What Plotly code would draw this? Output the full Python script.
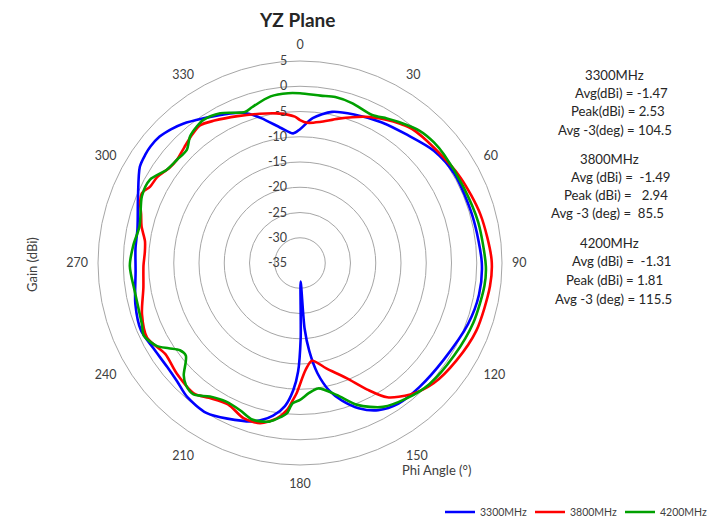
import plotly.graph_objects as go

# ---------------- data ----------------
series_names = ["3300MHz", "3800MHz", "4200MHz"]
series_colors = ["#0000FF", "#FF0000", "#00A000"]

phi_3300 = [0, 5, 12, 20, 30, 40, 50, 60, 75, 90, 100, 110, 124, 136, 145, 152, 158, 163, 167,
            171, 174, 176, 178, 179.5, 181, 183, 186, 190, 196, 205, 212, 220, 226, 232, 240,
            247, 256, 267, 275, 282, 292, 301, 305, 308, 312, 316, 320, 326, 335, 340, 345,
            352, 357, 360]
gain_3300 = [-8.5, -6.2, -4.4, -3.7, -2.8, -1.9, -0.4, 0.3, 0.4, 1.0, 1.0, 0.4, -0.7, -0.9, -1.0,
             -2.0, -4.0, -6.5, -9.0, -12.9, -17.5, -22.0, -31.3, -20.0, -13.5, -9.8, -6.5, -4.3,
             -2.4, -1.0, 0.0, -0.3, -1.2, -1.6, -1.4, -0.8, -1.4, -2.4, -2.3, -2.1, -0.4, 2.0,
             2.4, 2.53, 2.4, 1.8, 1.0, -0.5, -2.3, -3.4, -5.3, -8.0, -9.3, -8.5]

phi_3800 = [0, 3, 8, 15, 24, 31, 36, 40, 50, 62, 75, 89, 97, 111, 122, 132, 140, 147, 152, 158,
            166, 173, 177, 181.5, 183, 185, 188.5, 194, 200, 207, 214, 219, 228, 236, 244, 252,
            261, 269, 274, 278, 283, 287, 291, 294, 297, 301, 306, 310, 315, 320, 324, 329, 337,
            345, 351, 358, 360]
gain_3800 = [-6.7, -7.2, -6.8, -5.4, -3.3, -1.9, -1.0, -0.4, 0.05, 1.0, 2.0, 2.94, 2.9, 2.4, 1.5,
             0.6, -1.0, -3.3, -6.6, -10.4, -13.5, -15.5, -13.8, -9.2, -7.8, -5.8, -3.9, -2.3,
             -2.3, -3.6, -2.8, -1.7, -2.2, -2.8, -1.3, -2.1, -3.6, -4.0, -4.2, -4.0, -2.8, -2.1,
             -1.1, -0.8, -1.7, -2.0, -3.0, -3.2, -2.6, -1.8, -1.3, -2.1, -3.4, -4.4, -5.0, -6.0,
             -6.7]

phi_4200 = [0, 7, 12, 18, 26, 31, 35, 42, 48, 53, 65, 77, 91, 97, 109, 121, 133, 142, 150, 158,
            164.5, 171.7, 176, 180, 183, 185, 187, 191, 197, 202, 208, 214, 219, 223, 226, 229,
            231, 234, 237, 240, 245, 249, 260, 269, 276, 283, 293, 299, 305, 310, 315, 319, 323,
            326, 332, 340, 343, 350, 356, 360]
gain_4200 = [-1.4, -1.6, -1.4, -1.7, -2.4, -1.6, -0.9, 0.3, 0.7, 0.7, 0.7, 1.2, 1.81, 1.8, 1.3,
             0.6, 0.1, -0.9, -2.1, -4.7, -7.9, -9.9, -9.2, -7.9, -7.2, -5.1, -4.3, -3.0, -2.6,
             -3.5, -3.9, -3.1, -1.5, -1.9, -3.0, -5.0, -5.9, -5.6, -4.0, -2.2, -0.9, -1.45, -1.8,
             -1.3, -1.8, -2.4, -1.0, -1.0, -2.8, -3.2, -3.3, -1.8, -1.1, -0.8, -1.4, -3.2, -2.7,
             -1.5, -1.3, -1.4]

phi_values = [phi_3300, phi_3800, phi_4200]
gain_values = [gain_3300, gain_3800, gain_4200]

angle_ticks = [0, 30, 60, 90, 120, 150, 180, 210, 240, 270, 300, 330]
gain_ticks = [-35, -30, -25, -20, -15, -10, -5, 0, 5]

stat_avg = ["-1.47", "-1.49", "-1.31"]
stat_peak = ["2.53", "2.94", "1.81"]
stat_bw = ["104.5", "85.5", "115.5"]

# ---------------- figure ----------------
W, H = 717, 519
OFF = 8  # default page body margin offsets the figure
FONT = "Lato, Calibri, Carlito, sans-serif"
TXT = "#404040"


def px(x):
    return (x - OFF) / W


def py(y):
    return 1 - (y - OFF) / H


fig = go.Figure()
for name, col, ph, g in zip(series_names, series_colors, phi_values, gain_values):
    fig.add_trace(go.Scatterpolar(
        r=g, theta=ph, mode="lines", name=name,
        line=dict(color=col, width=2.6, shape="spline", smoothing=0.8),
    ))

cx, cy, R = 300, 263, 202
fig.update_layout(
    width=W, height=H,
    margin=dict(l=0, r=0, t=0, b=0, pad=0, autoexpand=False),
    paper_bgcolor="white", plot_bgcolor="white",
    font=dict(family=FONT, size=12, color=TXT),
    showlegend=True,
    legend=dict(orientation="h", x=px(440), xanchor="left", y=py(512), yanchor="middle",
                font=dict(size=10.5, color=TXT), bgcolor="rgba(0,0,0,0)",
                itemwidth=30, tracegroupgap=0, entrywidth=45, entrywidthmode="pixels"),
    polar=dict(
        domain=dict(x=[px(cx - R), px(cx + R)], y=[py(cy + R), py(cy - R)]),
        bgcolor="white",
        angularaxis=dict(rotation=90, direction="clockwise", tickmode="array",
                         tickvals=angle_ticks, ticktext=[str(a) for a in angle_ticks],
                         showgrid=False, showline=True, linecolor="#a6a6a6", linewidth=1,
                         ticks="outside", ticklen=7, tickcolor="rgba(0,0,0,0)",
                         tickfont=dict(size=12.5, color=TXT)),
        radialaxis=dict(range=[-35, 5], tickmode="array", tickvals=gain_ticks,
                        ticktext=[str(v) for v in gain_ticks], angle=90,
                        side="counterclockwise", showline=False, showgrid=True,
                        gridcolor="#a6a6a6", gridwidth=1, ticks="outside", ticklen=8,
                        tickcolor="rgba(0,0,0,0)", tickangle=90,
                        tickfont=dict(size=12.5, color=TXT)),
    ),
)

ann = []
ann.append(dict(text="<b>YZ Plane</b>", x=px(297), y=py(20), xref="paper", yref="paper",
                showarrow=False, yanchor="middle", font=dict(size=19, color="#262626")))
ann.append(dict(text="Gain (dBi)", x=px(22), y=py(265), xref="paper", yref="paper",
                textangle=-90, showarrow=False, font=dict(size=13, color=TXT)))
ann.append(dict(text="Phi Angle (°)", x=px(437), y=py(470), xref="paper", yref="paper",
                showarrow=False, yanchor="middle", font=dict(size=13, color=TXT)))

NB = "\u00a0"
lines = [
    (614, 75, series_names[0]),
    (621.7, 93, "Avg(dBi) = " + stat_avg[0]),
    (618, 111, "Peak(dBi) = " + stat_peak[0]),
    (615.3, 130, "Avg -3(deg) = " + stat_bw[0]),
    (609, 159, series_names[1]),
    (620.8, 177, "Avg (dBi) =" + NB + NB + stat_avg[1]),
    (615.8, 195, "Peak (dBi) =" + NB + NB + NB + stat_peak[1]),
    (607.7, 213, "Avg -3 (deg) =" + NB + NB + stat_bw[1]),
    (609, 243, series_names[2]),
    (621.7, 261, "Avg (dBi) =" + NB + NB + stat_avg[2]),
    (614, 280, "Peak (dBi) = " + stat_peak[2]),
    (613.3, 299, "Avg -3 (deg) = " + stat_bw[2]),
]
for x, y, t in lines:
    ann.append(dict(text=t, x=px(x), y=py(y), xref="paper", yref="paper",
                    showarrow=False, xanchor="center", yanchor="middle",
                    font=dict(size=13.2, color="#262626")))
fig.update_layout(annotations=ann)

fig.write_html("out.html")
